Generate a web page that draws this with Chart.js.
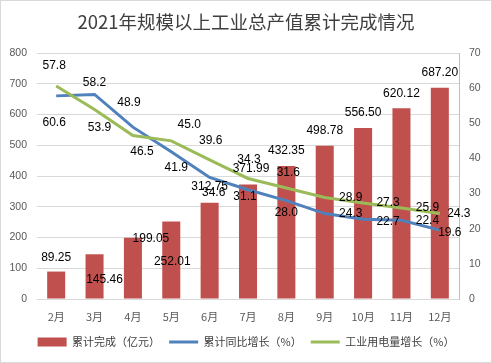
<!DOCTYPE html>
<html>
<head>
<meta charset="utf-8">
<script src="https://cdn.jsdelivr.net/npm/chart.js@4.4.9/dist/chart.umd.min.js"></script>
<style>
    html, body { margin: 0; padding: 0; background: #fff; }
    #wrap { width: 492px; height: 363px; position: relative; }
</style>
</head>
<body>
<div id="wrap"><canvas id="output-chart"></canvas></div>
<script>
const months = ['2月', '3月', '4月', '5月', '6月', '7月', '8月', '9月', '10月', '11月', '12月'];
const totalOutput = [89.25, 145.46, 199.05, 252.01, 312.75, 371.99, 432.35, 498.78, 556.50, 620.12, 687.20];
const outputGrowth = [57.8, 58.2, 48.9, 41.9, 34.6, 31.1, 28.0, 24.3, 22.7, 22.4, 19.6];
const powerGrowth = [60.6, 53.9, 46.5, 45.0, 39.6, 34.3, 31.6, 28.9, 27.3, 25.9, 24.3];

// where each value label sits relative to its bar top / point, [dx, dy] px
const labelShift = [
    [[0, -14], [10, 25], [18, 1], [1, 40], [0, -16], [3, -16], [0, -15], [0, -15], [0, -15], [0, -15], [0, -15]],
    [[-2, -30], [0, -12], [-4, -24], [5, 16], [4, 15], [-3, 7], [0, 12], [26, 0], [25, 2], [26, 0], [10, 3]],
    [[-2, 37], [5, 18], [9, 16], [18, -16], [1, -19], [1, -19], [2, -15], [26, 0], [25, 0], [26, 0], [19, 0]]
];
const labelDigits = [2, 1, 1];

const cjk = "'Noto Sans CJK SC', 'Noto Sans', sans-serif";
const num = "'Liberation Sans', Arial, sans-serif";

const frame = {
    id: 'frame',
    beforeDraw(chart) {
        const ctx = chart.ctx;
        ctx.save();
        ctx.fillStyle = '#fff';
        ctx.fillRect(0, 0, chart.width, chart.height);
        ctx.strokeStyle = '#D9D9D9';
        ctx.lineWidth = 1;
        ctx.strokeRect(0.5, 0.5, chart.width - 1, chart.height - 1);
        ctx.restore();
    }
};

const valueLabels = {
    id: 'valueLabels',
    afterDatasetsDraw(chart) {
        const ctx = chart.ctx;
        ctx.save();
        ctx.font = '12px ' + num;
        ctx.fillStyle = '#000';
        ctx.textAlign = 'center';
        ctx.textBaseline = 'middle';
        chart.data.datasets.forEach((ds, i) => {
            const meta = chart.getDatasetMeta(i);
            meta.data.forEach((el, j) => {
                const [dx, dy] = labelShift[i][j];
                ctx.fillText(ds.data[j].toFixed(labelDigits[i]), el.x + dx, el.y + dy);
            });
        });
        ctx.restore();
    }
};

const ctx = document.getElementById('output-chart').getContext('2d');

new Chart(ctx, {
    type: 'bar',
    data: {
        labels: months,
        datasets: [{
            label: '累计完成（亿元）',
            data: totalOutput,
            backgroundColor: '#C0504D',
            borderWidth: 0,
            yAxisID: 'y',
            order: 2,
            pointStyle: 'rect',
            categoryPercentage: 1,
            barPercentage: 0.47
        }, {
            type: 'line',
            label: '累计同比增长（%）',
            data: outputGrowth,
            borderColor: '#4F81BD',
            backgroundColor: '#4F81BD',
            borderWidth: 3,
            pointRadius: 0,
            tension: 0,
            yAxisID: 'y1',
            order: 1,
            pointStyle: 'line'
        }, {
            type: 'line',
            label: '工业用电量增长（%）',
            data: powerGrowth,
            borderColor: '#9BBB59',
            backgroundColor: '#9BBB59',
            borderWidth: 3,
            pointRadius: 0,
            tension: 0,
            yAxisID: 'y1',
            order: 0,
            pointStyle: 'line'
        }]
    },
    options: {
        responsive: true,
        maintainAspectRatio: false,
        animation: false,
        layout: { padding: { left: 0, right: 0, top: 0, bottom: 5.5 } },
        scales: {
            x: {
                grid: { display: false },
                border: { display: false },
                ticks: { color: '#595959', font: { family: cjk, size: 11 }, padding: 3, maxRotation: 0 },
                afterFit: s => { s.height = 28.5; }
            },
            y: {
                position: 'left',
                min: 0,
                max: 800,
                ticks: { stepSize: 100, color: '#595959', font: { family: num, size: 10.5 }, padding: 10 },
                grid: { color: '#D9D9D9', drawTicks: false },
                border: { display: false },
                afterFit: s => { s.width = 37; }
            },
            y1: {
                position: 'right',
                min: 0,
                max: 70,
                ticks: { stepSize: 10, color: '#595959', font: { family: num, size: 10.5 }, padding: 10 },
                grid: { drawOnChartArea: false, drawTicks: false },
                border: { display: true, color: '#BFBFBF' },
                afterFit: s => { s.width = 33; }
            }
        },
        plugins: {
            title: {
                display: true,
                text: '2021年规模以上工业总产值累计完成情况',
                color: '#3F3F3F',
                font: { family: cjk, size: 18.5, weight: 'normal' },
                padding: { top: 11, bottom: 19.8 }
            },
            legend: {
                position: 'bottom',
                labels: {
                    color: '#404040',
                    font: { family: cjk, size: 11 },
                    usePointStyle: true,
                    pointStyleWidth: 29,
                    boxWidth: 29,
                    boxHeight: 9,
                    padding: 9,
                    sort: (a, b) => a.datasetIndex - b.datasetIndex
                }
            },
            tooltip: { enabled: false }
        }
    },
    plugins: [frame, valueLabels]
});
</script>
</body>
</html>
